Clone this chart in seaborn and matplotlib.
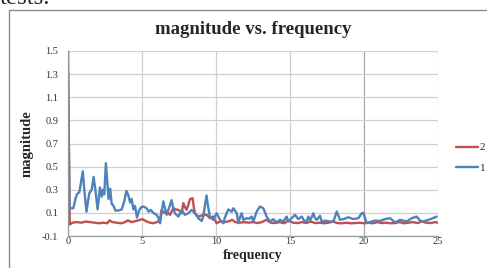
import pandas as pd
import seaborn as sns
import matplotlib.pyplot as plt
from matplotlib.patches import Rectangle
from matplotlib.lines import Line2D

# series "1" (blue)
freq_1 = [0, 0.1, 0.18, 0.36, 0.5, 0.6, 0.77, 0.9, 1.0, 1.1,
          1.25, 1.35, 1.44, 1.6, 1.73, 1.85, 2.0, 2.16, 2.28, 2.36,
          2.45, 2.56, 2.65, 2.74, 2.85, 2.95, 3.08, 3.2, 3.4, 3.63,
          3.8, 3.95, 4.08, 4.2, 4.3, 4.42, 4.53, 4.66, 4.8, 4.95,
          5.1, 5.31, 5.45, 5.58, 5.76, 5.99, 6.1, 6.22, 6.32, 6.44,
          6.55, 6.66, 6.85, 7.0, 7.1, 7.22, 7.45, 7.6, 7.68, 7.9,
          8.13, 8.35, 8.58, 8.8, 9.03, 9.14, 9.27, 9.36, 9.47, 9.59,
          9.81, 10.04, 10.27, 10.5, 10.6, 10.83, 11.06, 11.17, 11.4, 11.51,
          11.62, 11.73, 11.85, 12.07, 12.25, 12.41, 12.52, 12.75, 12.97, 13.2,
          13.42, 13.65, 13.87, 14.1, 14.32, 14.55, 14.77, 14.89, 15.11, 15.34,
          15.56, 15.79, 16.0, 16.13, 16.24, 16.36, 16.58, 16.69, 16.81, 17.03,
          17.14, 17.37, 17.71, 17.93, 18.16, 18.38, 18.61, 18.95, 19.28, 19.62,
          19.85, 19.96, 20.18, 20.52, 20.75, 21.09, 21.42, 21.76, 22.1, 22.44,
          22.89, 23.23, 23.56, 23.79, 24.01, 24.35, 24.58, 24.91]
mag_1 = [1.55, 0.14, 0.14, 0.14, 0.22, 0.26, 0.28, 0.38, 0.46, 0.3,
         0.11, 0.2, 0.27, 0.3, 0.41, 0.3, 0.13, 0.32, 0.24, 0.3,
         0.26, 0.53, 0.38, 0.22, 0.31, 0.18, 0.16, 0.12, 0.12, 0.13,
         0.2, 0.29, 0.25, 0.19, 0.22, 0.13, 0.16, 0.06, 0.12, 0.15,
         0.155, 0.14, 0.11, 0.126, 0.1, 0.083, 0.06, 0.01, 0.1, 0.2,
         0.14, 0.083, 0.15, 0.21, 0.15, 0.097, 0.068, 0.1, 0.126, 0.083,
         0.097, 0.126, 0.097, 0.054, 0.03, 0.068, 0.18, 0.25, 0.15, 0.068,
         0.04, 0.097, 0.04, 0.01, 0.06, 0.13, 0.11, 0.14, 0.097, 0.011,
         0.06, 0.097, 0.04, 0.054, 0.05, 0.068, 0.025, 0.112, 0.155, 0.14,
         0.068, 0.025, 0.046, 0.017, 0.04, 0.025, 0.068, 0.025, 0.054, 0.083,
         0.046, 0.068, 0.025, 0.03, 0.068, 0.033, 0.097, 0.054, 0.04, 0.075,
         0.025, 0.033, 0.025, 0.025, 0.112, 0.04, 0.046, 0.062, 0.046, 0.054,
         0.097, 0.1, 0.011, 0.025, 0.033, 0.03, 0.046, 0.054, 0.017, 0.04,
         0.025, 0.054, 0.068, 0.033, 0.025, 0.04, 0.05, 0.068]

# series "2" (red)
freq_2 = [0, 0.12, 0.3, 0.6, 0.9, 1.2, 1.5, 1.8, 2.1, 2.4,
          2.65, 2.8, 3.0, 3.3, 3.6, 3.85, 4.05, 4.3, 4.6, 4.86,
          5.05, 5.31, 5.55, 5.76, 6.0, 6.1, 6.21, 6.32, 6.5, 6.66,
          6.89, 7.11, 7.3, 7.45, 7.6, 7.68, 7.79, 7.9, 8.01, 8.13,
          8.24, 8.42, 8.5, 8.58, 8.8, 9.0, 9.14, 9.36, 9.59, 9.81,
          10.04, 10.27, 10.6, 10.94, 11.1, 11.3, 11.6, 11.9, 12.2, 12.5,
          12.8, 13.1, 13.4, 13.7, 14.0, 14.3, 14.6, 14.9, 15.2, 15.5,
          15.8, 16.1, 16.4, 16.7, 17.0, 17.3, 17.6, 17.9, 18.2, 18.5,
          18.8, 19.1, 19.4, 19.7, 20.0, 20.3, 20.6, 20.9, 21.2, 21.5,
          21.8, 22.1, 22.4, 22.7, 23.0, 23.3, 23.6, 23.9, 24.2, 24.5,
          24.8, 25.0]
mag_2 = [1.33, 0.0, 0.015, 0.02, 0.015, 0.025, 0.02, 0.015, 0.01, 0.015,
         0.01, 0.035, 0.02, 0.015, 0.01, 0.02, 0.035, 0.02, 0.03, 0.04,
         0.045, 0.025, 0.015, 0.01, 0.02, 0.025, 0.025, 0.126, 0.1, 0.112,
         0.083, 0.14, 0.13, 0.126, 0.11, 0.097, 0.184, 0.15, 0.126, 0.17,
         0.218, 0.227, 0.15, 0.097, 0.068, 0.075, 0.083, 0.083, 0.054, 0.068,
         0.01, 0.025, 0.02, 0.03, 0.04, 0.02, 0.015, 0.02, 0.015, 0.02,
         0.012, 0.02, 0.04, 0.015, 0.012, 0.02, 0.01, 0.035, 0.015, 0.012,
         0.02, 0.012, 0.025, 0.012, 0.015, 0.01, 0.015, 0.025, 0.012, 0.01,
         0.015, 0.01, 0.012, 0.015, 0.01, 0.015, 0.01, 0.02, 0.012, 0.015,
         0.01, 0.012, 0.02, 0.01, 0.015, 0.02, 0.012, 0.025, 0.015, 0.012,
         0.02, 0.015]

x_ticks = [0, 5, 10, 15, 20, 25]
y_ticks = [-0.1, 0.1, 0.3, 0.5, 0.7, 0.9, 1.1, 1.3, 1.5]

df = pd.concat([
    pd.DataFrame({'frequency': freq_2, 'magnitude': mag_2, 'series': '2'}),
    pd.DataFrame({'frequency': freq_1, 'magnitude': mag_1, 'series': '1'}),
])

sns.set_theme(style='whitegrid')
plt.rcParams['font.family'] = ['Liberation Serif', 'DejaVu Serif']

red = '#C0504D'
blue = '#4F81BD'

fig = plt.figure(figsize=(4.87, 2.68), dpi=100)
fig.patch.set_facecolor('white')

# chart border
fig.patches.append(Rectangle((9 / 487, -0.1), 1.2, 1.1 - 10 / 268,
                             transform=fig.transFigure, fill=False,
                             edgecolor='#8c8c8c', linewidth=1.0))
# leftover text from the page above the chart
fig.text(0.0, 1 - 4 / 268, 'tests.', fontsize=18, va='baseline', ha='left')

ax = fig.add_axes([68 / 487, 1 - 236 / 268, 370 / 487, 185 / 268])
ax.set_facecolor('white')

sns.lineplot(data=df, x='frequency', y='magnitude', hue='series',
             hue_order=['2', '1'], palette={'2': red, '1': blue},
             sort=False, estimator=None, linewidth=1.7, ax=ax, legend=False)

ax.set_xlim(0, 25)
ax.set_ylim(-0.1, 1.5)
ax.set_xticks(x_ticks)
ax.set_yticks(y_ticks)
ax.set_xticklabels([str(t) for t in x_ticks])
ax.set_yticklabels(['%.1f' % t for t in y_ticks])
ax.grid(True, color='#d0d0d0', linewidth=0.9)
ax.get_xgridlines()[4].set_color('#a8a8a8')
ax.tick_params(axis='both', labelsize=7.5, colors='#333333')
ax.tick_params(axis='x', direction='inout', length=4, color='#999999',
               width=0.8, pad=-1)
ax.tick_params(axis='y', length=0, pad=7)
for s in ['top', 'right']:
    ax.spines[s].set_visible(False)
for s in ['left', 'bottom']:
    ax.spines[s].set_color('#999999')
    ax.spines[s].set_linewidth(0.9)

ax.set_title('magnitude vs. frequency', fontsize=13.5, fontweight='bold', pad=12)
ax.set_xlabel('frequency', fontsize=10, fontweight='bold', labelpad=2)
ax.set_ylabel('magnitude', fontsize=10.5, fontweight='bold', labelpad=6)

handles = [Line2D([], [], color=red, linewidth=1.7),
           Line2D([], [], color=blue, linewidth=1.7)]
fig.legend(handles, ['2', '1'], loc='center left',
           bbox_to_anchor=(456 / 487, 1 - 158 / 268), frameon=False,
           borderpad=0, borderaxespad=0, fontsize=8, handlelength=2.0,
           handletextpad=0.15, labelspacing=1.0)

fig.savefig('out.png', dpi=100)
